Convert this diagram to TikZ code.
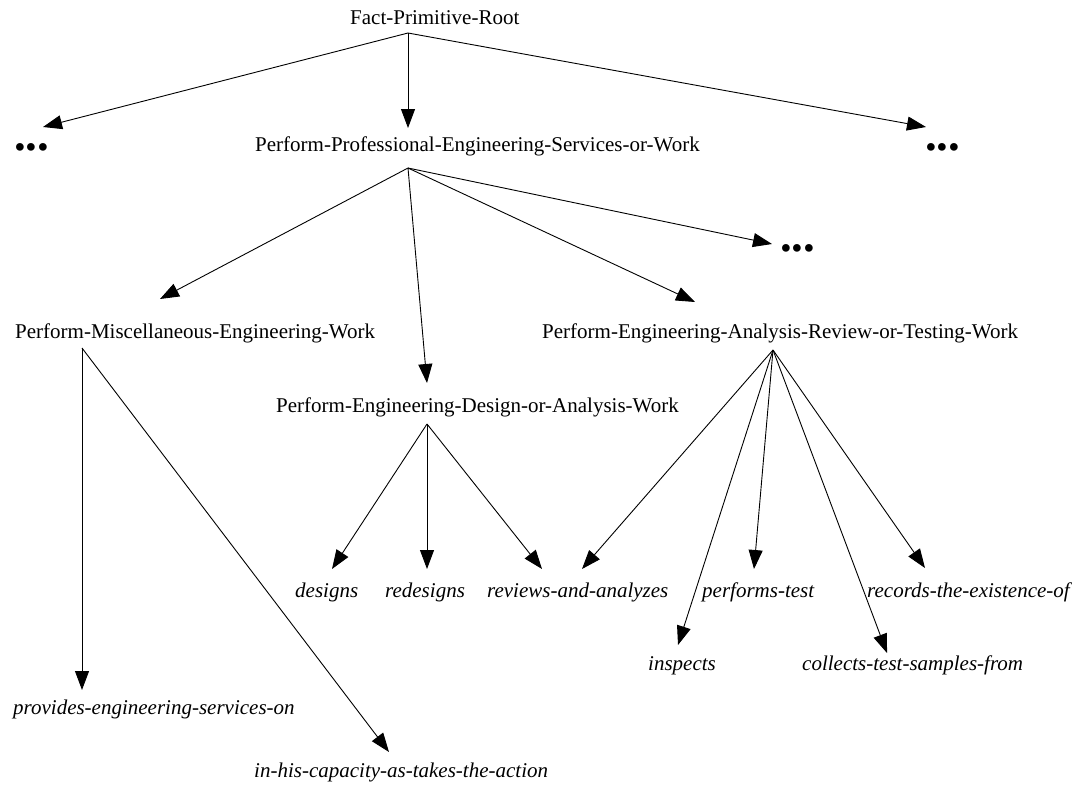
\documentclass[tikz,border=0pt]{standalone}
\usepackage{fontspec}
\setmainfont{Liberation Serif}
\usetikzlibrary{arrows.meta}

\tikzset{
	classe/.style={inner sep=0pt, anchor=base west, font=\fontsize{21}{25}\selectfont},
	relazione/.style={classe, font=\fontsize{21}{25}\selectfont\itshape},
	puntini/.style={inner sep=0pt, anchor=base west, font=\fontsize{47}{47}\selectfont\bfseries},
	arco/.style={line width=0.9pt, -{Triangle[length=19pt, width=14pt]}}
}

\begin{document}
\begin{tikzpicture}[x=1pt, y=-1pt]
		\useasboundingbox (0, 0) rectangle (1081, 788);

		% uscite
		\coordinate (root-out) at (408, 33);
		\coordinate (ppesw-out) at (408, 168);
		\coordinate (pmew-out) at (82, 348);
		\coordinate (pedaw-out) at (427, 424);
		\coordinate (peartw-out) at (773, 350);

		% entrate
		\coordinate (ldots-in) at (43, 127);
		\coordinate (ppesw-in) at (408, 128);
		\coordinate (rdots-in) at (926, 127);
		\coordinate (pmew-in) at (160, 299);
		\coordinate (pedaw-in) at (427, 383);
		\coordinate (mdots-in) at (772, 244);
		\coordinate (peartw-in) at (695, 302);
		\coordinate (provides-in) at (82, 690);
		\coordinate (inhis-in) at (389, 752);
		\coordinate (designs-in) at (332, 569);
		\coordinate (redesigns-in) at (427, 569);
		\coordinate (raa-in-a) at (542, 569);
		\coordinate (raa-in-b) at (582, 569);
		\coordinate (inspects-in) at (678, 645);
		\coordinate (performs-in) at (754, 569);
		\coordinate (collects-in) at (887, 653);
		\coordinate (records-in) at (925, 568);

		% classi
		\node[classe] (root) at (350, 24) {Fact-Primitive-Root};
		\node[classe] (ppesw) at (255, 151) {Perform-Professional-Engineering-Services-or-Work};
		\node[puntini] (ldots) at (14, 150) {...};
		\node[puntini] (rdots) at (925, 150) {...};
		\node[puntini] (mdots) at (780, 251) {...};
		\node[classe] (pmew) at (15, 338) {Perform-Miscellaneous-Engineering-Work};
		\node[classe] (peartw) at (542, 338) {Perform-Engineering-Analysis-Review-or-Testing-Work};
		\node[classe] (pedaw) at (276, 412) {Perform-Engineering-Design-or-Analysis-Work};

		% relazioni
		\node[relazione] (designs) at (295, 597) {designs};
		\node[relazione] (redesigns) at (385, 597) {redesigns};
		\node[relazione] (raa) at (487, 597) {reviews-and-analyzes};
		\node[relazione] (performs) at (702, 597) {performs-test};
		\node[relazione] (records) at (867, 597) {records-the-existence-of};
		\node[relazione] (inspects) at (648, 670) {inspects};
		\node[relazione] (collects) at (802, 670) {collects-test-samples-from};
		\node[relazione] (provides) at (13, 714) {provides-engineering-services-on};
		\node[relazione] (inhis) at (254, 777) {in-his-capacity-as-takes-the-action};

		% archi
		\draw[arco] (root-out) -- (ldots-in);
		\draw[arco] (root-out) -- (ppesw-in);
		\draw[arco] (root-out) -- (rdots-in);
		\draw[arco] (ppesw-out) -- (pmew-in);
		\draw[arco] (ppesw-out) -- (pedaw-in);
		\draw[arco] (ppesw-out) -- (mdots-in);
		\draw[arco] (ppesw-out) -- (peartw-in);
		\draw[arco] (pmew-out) -- (provides-in);
		\draw[arco] (pmew-out) -- (inhis-in);
		\draw[arco] (pedaw-out) -- (designs-in);
		\draw[arco] (pedaw-out) -- (redesigns-in);
		\draw[arco] (pedaw-out) -- (raa-in-a);
		\draw[arco] (peartw-out) -- (raa-in-b);
		\draw[arco] (peartw-out) -- (inspects-in);
		\draw[arco] (peartw-out) -- (performs-in);
		\draw[arco] (peartw-out) -- (collects-in);
		\draw[arco] (peartw-out) -- (records-in);
	\end{tikzpicture}
\end{document}
